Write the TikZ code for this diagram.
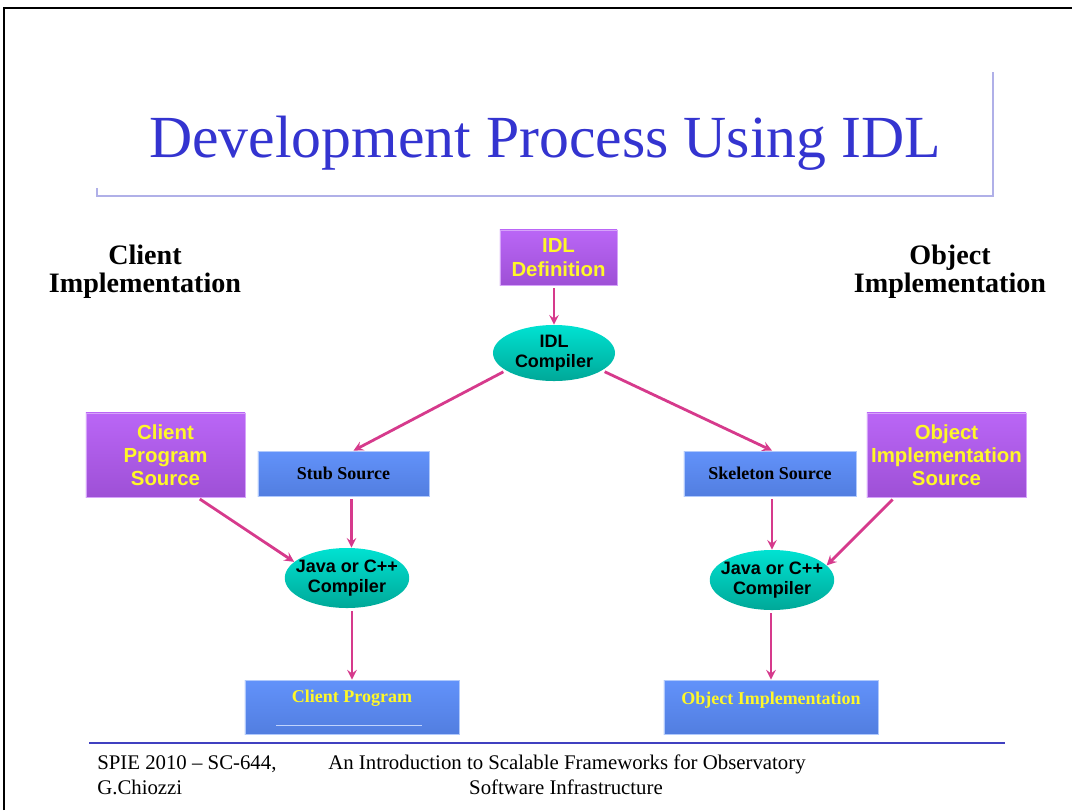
\documentclass[tikz,border=0pt]{standalone}
\usepackage{fontspec}
\setmainfont{Liberation Serif}
\newfontfamily\arialfont{Liberation Sans}
\usepackage{tikz}
\usetikzlibrary{shapes,arrows,positioning}

\definecolor{titleblue}{RGB}{52,52,208}
\definecolor{rulelilac}{RGB}{176,176,232}
\definecolor{footblue}{RGB}{64,64,192}
\definecolor{arrowpink}{RGB}{214,58,140}
\definecolor{purptop}{RGB}{186,102,246}
\definecolor{purpbot}{RGB}{158,80,214}
\definecolor{bluetop}{RGB}{98,146,250}
\definecolor{bluebot}{RGB}{82,126,224}
\definecolor{tealtop}{RGB}{0,226,210}
\definecolor{tealbot}{RGB}{0,168,152}
\definecolor{boxyellow}{RGB}{255,248,40}

\tikzset{
	srcbox/.style={rectangle, draw=purptop!60!white, line width=0.6pt, top color=purptop, bottom color=purpbot, align=center, text=boxyellow, font=\arialfont\bfseries\fontsize{14.5}{16.5}\selectfont, inner sep=0pt},
	genbox/.style={rectangle, draw=bluetop!50!white, line width=0.6pt, top color=bluetop, bottom color=bluebot, align=center, font=\bfseries\fontsize{12.8}{14}\selectfont, inner sep=0pt},
	compiler/.style={ellipse, top color=tealtop, bottom color=tealbot, align=center, font=\arialfont\bfseries\fontsize{12.8}{14.5}\selectfont, inner xsep=-5pt, inner ysep=0pt},
	side/.style={align=center, font=\bfseries\fontsize{20}{20}\selectfont},
	flow/.style={-stealth, draw=arrowpink, line width=2pt, shorten <=2pt},
	foot/.style={anchor=base west, inner sep=0pt, font=\fontsize{14.8}{17}\selectfont}
}

\begin{document}
\begin{tikzpicture}[x=0.025cm, y=-0.025cm]
				\useasboundingbox (0,0) rectangle (1072,810);

				% slide frame and title
				\draw [line width=1.2pt] (4,810) -- (4,8) -- (1072,8);
				\draw [draw=rulelilac, line width=0.8pt] (97,188) -- (97,196) -- (993,196) -- (993,72);
				\node [anchor=base, inner sep=0pt, text=titleblue, font=\fontsize{42.5}{48}\selectfont] (title) at (545,157) {Development Process Using IDL};

				\node [side] (clientside) at (145,272) {Client\\Implementation};
				\node [side] (objectside) at (950,272) {Object\\Implementation};

				% sources and compilers
				\node [srcbox, minimum width=2.925cm, minimum height=1.375cm] (idldef) at (558.5,257.5) {IDL\\Definition};
				\node [compiler, minimum width=3.05cm, minimum height=1.4cm] (idlcomp) at (554,353) {IDL\\Compiler};

				\node [srcbox, minimum width=3.975cm, minimum height=2.1cm] (clientsrc) at (165.5,455) {Client\\Program\\Source};
				\node [genbox, minimum width=4.275cm, minimum height=1.125cm] (stub) at (343.5,473.5) {Stub Source};
				\node [genbox, minimum width=4.3cm, minimum height=1.125cm] (skel) at (770,473.5) {Skeleton Source};
				\node [srcbox, minimum width=3.975cm, minimum height=2.1cm] (objsrc) at (946.5,455) {Object\\Implementation\\Source};

				\node [compiler, minimum width=3.05cm, minimum height=1.5cm] (leftcomp) at (347,578) {Java or C++\\Compiler};
				\node [compiler, minimum width=3.05cm, minimum height=1.5cm] (rightcomp) at (772,580) {Java or C++\\Compiler};

				% results
				\node [genbox, minimum width=5.35cm, minimum height=1.35cm, text=boxyellow, text depth=16pt] (clientprog) at (352,707) {Client Program};
				\draw [draw=bluetop!40!white, line width=0.4pt] (276,725) -- (422,725);
				\node [genbox, minimum width=5.35cm, minimum height=1.35cm, text=boxyellow, text depth=12pt] (objimpl) at (771,707) {Object Implementation};

				% arrows
				\draw [flow] (idldef.south -| idlcomp.north) -- (idlcomp.north);
				\draw [flow] (idlcomp.200) -- ([xshift=0.25cm]stub.north);
				\draw [flow] (idlcomp.340) -- ([xshift=0.05cm]skel.north);
				\draw [flow] ([xshift=-1.2cm]clientsrc.south east) -- (leftcomp.163);
				\draw [flow] ([xshift=0.2cm]stub.south) -- ([xshift=0.2cm]stub.south |- leftcomp.north);
				\draw [flow] ([xshift=0.05cm]skel.south) -- ([xshift=0.05cm]skel.south |- rightcomp.north);
				\draw [flow] ([xshift=0.7cm]objsrc.south west) -- (rightcomp.15);
				\draw [flow] (leftcomp.south -| clientprog.north) -- (clientprog.north);
				\draw [flow] (rightcomp.south -| objimpl.north) -- (objimpl.north);

				% footer
				\draw [draw=footblue, line width=1pt] (89,743) -- (1005,743);
				\node [foot] (spie) at (97,769) {SPIE 2010 -- SC-644,};
				\node [foot] (author) at (97,794) {G.Chiozzi};
				\node [foot] (course) at (328,769) {An Introduction to Scalable Frameworks for Observatory};
				\node [anchor=base, inner sep=0pt, font=\fontsize{14.8}{17}\selectfont] (course2) at (566,794) {Software Infrastructure};

				\end{tikzpicture}
\end{document}
